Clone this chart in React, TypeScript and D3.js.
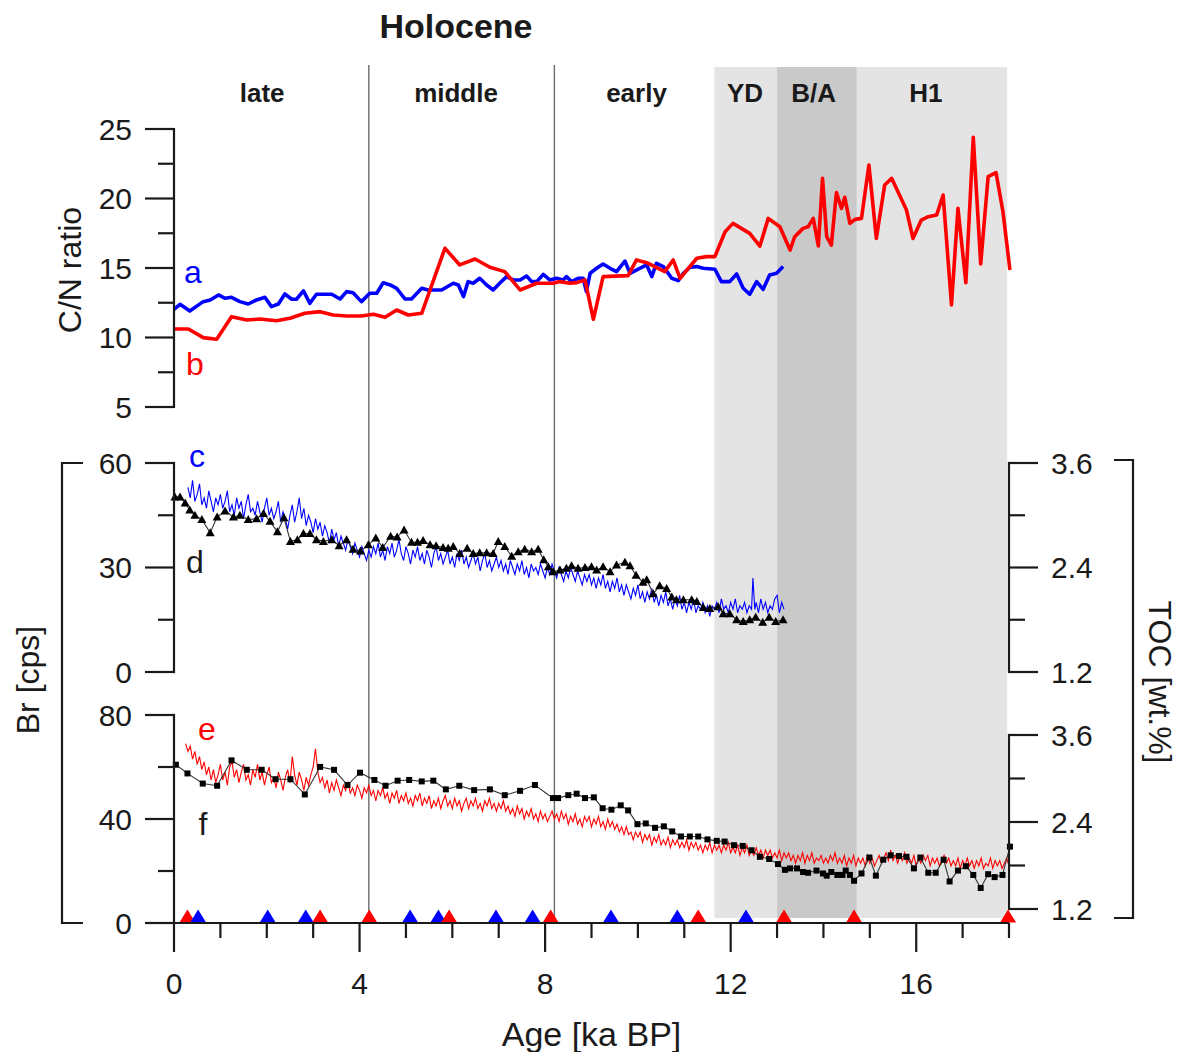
import React from 'react'
import * as d3 from 'd3'

// ---- data ----
// C/N ratio, record a (blue)
const cnA: [number, number][] = [
    [0, 12.03], [0.13, 12.39], [0.34, 11.91], [0.63, 12.58], [0.78, 12.7], [0.96, 13.06], [1.1, 12.82],
    [1.24, 12.89], [1.42, 12.58], [1.6, 12.41], [1.78, 12.7], [1.96, 12.89], [2.1, 12.22], [2.25, 12.41],
    [2.39, 13.13], [2.54, 12.75], [2.64, 12.75], [2.79, 13.35], [2.93, 12.46], [3.07, 13.11], [3.4, 13.11],
    [3.58, 12.77], [3.72, 13.3], [3.86, 13.22], [4.04, 12.58], [4.22, 13.18], [4.37, 13.18], [4.51, 13.94],
    [4.66, 13.78], [4.8, 13.54], [4.98, 12.77], [5.12, 12.77], [5.34, 13.54], [5.48, 13.42], [5.63, 13.42],
    [5.77, 13.42], [6.02, 13.9], [6.13, 13.78], [6.24, 12.94], [6.34, 14.02], [6.45, 13.9], [6.59, 14.26],
    [6.74, 13.78], [6.88, 13.42], [7.02, 13.9], [7.17, 14.38], [7.31, 14.14], [7.46, 14.14], [7.6, 14.42],
    [7.71, 14.02], [7.82, 14.02], [7.96, 14.54], [8.1, 14.14], [8.25, 14.26], [8.39, 14.14], [8.46, 14.38],
    [8.57, 14.02], [8.71, 14.26], [8.82, 14.26], [8.89, 13.3], [8.97, 14.62], [9.11, 14.98], [9.25, 15.29],
    [9.4, 14.98], [9.54, 14.74], [9.72, 15.5], [9.83, 14.62], [10.04, 14.98], [10.19, 15.22], [10.3, 14.38],
    [10.4, 15.34], [10.55, 15.1], [10.73, 14.26], [10.87, 14.09], [10.98, 14.62], [11.12, 15.05], [11.27, 15.1],
    [11.41, 14.98], [11.66, 14.91], [11.8, 14.02], [11.98, 14.02], [12.13, 14.57], [12.27, 13.54], [12.41, 13.11],
    [12.56, 14.02], [12.7, 13.47], [12.84, 14.5], [12.99, 14.62], [13.13, 15.1],
]

// C/N ratio, record b (red)
const cnB: [number, number][] = [
    [0.02, 10.61], [0.31, 10.61], [0.63, 9.99], [0.92, 9.87], [1.24, 11.5], [1.57, 11.26], [1.85, 11.33],
    [2.21, 11.21], [2.5, 11.38], [2.82, 11.74], [3.15, 11.86], [3.43, 11.62], [3.72, 11.55], [4.04, 11.55],
    [4.3, 11.67], [4.55, 11.45], [4.8, 11.98], [5.05, 11.62], [5.34, 11.74], [5.84, 16.42], [6.16, 15.22],
    [6.49, 15.65], [6.81, 15.05], [7.13, 14.74], [7.46, 13.42], [7.82, 13.9], [8.17, 13.9], [8.32, 14.02],
    [8.53, 13.9], [8.68, 13.95], [8.86, 14.14], [9.04, 11.31], [9.25, 14.38], [9.79, 14.45], [9.97, 15.58],
    [10.19, 15.38], [10.58, 14.74], [10.76, 15.58], [10.91, 14.26], [11.27, 15.7], [11.48, 15.82], [11.66, 15.82],
    [11.88, 17.61], [12.05, 18.21], [12.41, 17.49], [12.63, 16.58], [12.81, 18.57], [13.06, 17.97], [13.28, 16.29],
    [13.38, 17.25], [13.56, 17.85], [13.67, 17.97], [13.78, 18.57], [13.89, 16.58], [13.98, 21.45], [14.07, 17.25],
    [14.17, 16.65], [14.28, 20.42], [14.39, 19.29], [14.46, 20.09], [14.57, 18.21], [14.68, 18.5], [14.82, 18.57],
    [14.98, 22.41], [15.14, 17.13], [15.32, 20.97], [15.47, 21.45], [15.79, 19.17], [15.93, 17.13], [16.11, 18.45],
    [16.26, 18.69], [16.44, 18.81], [16.58, 20.25], [16.76, 12.34], [16.9, 19.29], [17.07, 13.94], [17.23, 24.4],
    [17.39, 15.29], [17.55, 21.57], [17.72, 21.86], [17.87, 19.05], [18.02, 14.86],
]

// Br [cps], record c (blue, XRF scan)
const brC: [number, number][] = [
    [0.3, 53], [0.35, 50], [0.4, 55], [0.45, 49], [0.5, 51], [0.55, 54], [0.6, 48], [0.65, 50], [0.7, 47], [0.75, 52],
    [0.8, 49], [0.85, 46], [0.9, 50], [0.95, 48], [1.0, 51], [1.05, 47], [1.1, 49], [1.15, 52], [1.2, 46], [1.25, 48],
    [1.3, 45], [1.35, 50], [1.4, 47], [1.45, 49], [1.5, 44], [1.55, 48], [1.6, 51], [1.65, 46], [1.7, 47], [1.75, 45],
    [1.8, 49], [1.85, 46], [1.9, 43], [1.95, 47], [2.0, 50], [2.05, 45], [2.1, 47], [2.15, 44], [2.2, 46], [2.25, 49],
    [2.3, 43], [2.35, 46], [2.4, 44], [2.45, 41], [2.5, 45], [2.55, 48], [2.6, 43], [2.65, 46], [2.7, 50], [2.75, 44],
    [2.8, 47], [2.85, 42], [2.9, 45], [2.95, 43], [3.0, 40], [3.05, 44], [3.1, 41], [3.15, 43], [3.2, 39], [3.25, 42],
    [3.3, 40], [3.35, 37], [3.4, 41], [3.45, 38], [3.5, 40], [3.55, 36], [3.6, 39], [3.65, 37], [3.7, 35], [3.75, 38],
    [3.8, 36], [3.85, 34], [3.9, 37], [3.95, 35], [4.0, 33], [4.05, 36], [4.1, 34], [4.15, 32], [4.2, 35], [4.25, 33],
    [4.3, 36], [4.35, 34], [4.4, 37], [4.45, 33], [4.5, 35], [4.55, 32], [4.6, 36], [4.65, 34], [4.7, 37], [4.75, 33],
    [4.8, 35], [4.85, 38], [4.9, 34], [4.95, 32], [5.0, 36], [5.05, 34], [5.1, 31], [5.15, 35], [5.2, 33], [5.25, 36],
    [5.3, 32], [5.35, 34], [5.4, 31], [5.45, 35], [5.5, 33], [5.55, 30], [5.6, 34], [5.65, 36], [5.7, 32], [5.75, 34],
    [5.8, 31], [5.85, 33], [5.9, 35], [5.95, 31], [6.0, 33], [6.05, 30], [6.1, 34], [6.15, 32], [6.2, 35], [6.25, 31],
    [6.3, 33], [6.35, 30], [6.4, 32], [6.45, 34], [6.5, 31], [6.55, 33], [6.6, 29], [6.65, 32], [6.7, 34], [6.75, 30],
    [6.8, 32], [6.85, 29], [6.9, 31], [6.95, 33], [7.0, 30], [7.05, 32], [7.1, 29], [7.15, 31], [7.2, 28], [7.25, 32],
    [7.3, 30], [7.35, 28], [7.4, 31], [7.45, 29], [7.5, 32], [7.55, 28], [7.6, 30], [7.65, 27], [7.7, 31], [7.75, 29],
    [7.8, 30], [7.85, 28], [7.9, 31], [7.95, 29], [8.0, 27], [8.05, 30], [8.1, 28], [8.15, 31], [8.2, 29], [8.25, 27],
    [8.3, 30], [8.35, 28], [8.4, 26], [8.45, 29], [8.5, 27], [8.55, 30], [8.6, 28], [8.65, 26], [8.7, 29], [8.75, 27],
    [8.8, 25], [8.85, 28], [8.9, 26], [8.95, 28], [9.0, 25], [9.05, 27], [9.1, 24], [9.15, 27], [9.2, 25], [9.25, 28],
    [9.3, 24], [9.35, 26], [9.4, 23], [9.45, 26], [9.5, 24], [9.55, 27], [9.6, 23], [9.65, 25], [9.7, 22], [9.75, 25],
    [9.8, 23], [9.85, 21], [9.9, 24], [9.95, 22], [10.0, 25], [10.05, 21], [10.1, 23], [10.15, 20], [10.2, 23],
    [10.25, 21], [10.3, 24], [10.35, 20], [10.4, 22], [10.45, 19], [10.5, 22], [10.55, 20], [10.6, 23], [10.65, 19],
    [10.7, 21], [10.75, 18], [10.8, 21], [10.85, 19], [10.9, 22], [10.95, 18], [11.0, 20], [11.05, 17], [11.1, 20],
    [11.15, 18], [11.2, 21], [11.25, 17], [11.3, 19], [11.35, 18], [11.4, 20], [11.45, 17], [11.5, 19], [11.55, 16],
    [11.6, 19], [11.65, 18], [11.7, 20], [11.75, 17], [11.8, 21], [11.85, 18], [11.9, 19], [11.95, 17], [12.0, 20],
    [12.05, 18], [12.1, 21], [12.15, 17], [12.2, 19], [12.25, 18], [12.3, 20], [12.35, 17], [12.4, 19], [12.45, 18],
    [12.48, 27], [12.52, 18], [12.55, 20], [12.6, 17], [12.65, 21], [12.7, 18], [12.75, 20], [12.8, 17], [12.85, 19],
    [12.9, 18], [12.95, 21], [13.0, 22], [13.05, 17], [13.1, 20], [13.15, 18],
]

// TOC [wt.%], record d (black triangles)
const tocD: [number, number][] = [
    [0.02, 3.21], [0.13, 3.21], [0.24, 3.14], [0.34, 3.06], [0.45, 3.0], [0.6, 2.95], [0.78, 2.8], [0.93, 2.98],
    [1.1, 3.05], [1.28, 2.98], [1.42, 3.0], [1.6, 2.95], [1.78, 2.96], [1.93, 3.02], [2.07, 2.93], [2.23, 2.81],
    [2.37, 2.97], [2.51, 2.7], [2.66, 2.72], [2.79, 2.79], [2.93, 2.79], [3.07, 2.72], [3.22, 2.7], [3.4, 2.72],
    [3.56, 2.65], [3.72, 2.72], [3.86, 2.61], [4.02, 2.59], [4.19, 2.66], [4.35, 2.74], [4.5, 2.63], [4.67, 2.76],
    [4.81, 2.75], [4.96, 2.83], [5.12, 2.69], [5.25, 2.69], [5.37, 2.71], [5.52, 2.66], [5.65, 2.65], [5.8, 2.63],
    [5.91, 2.62], [6.02, 2.64], [6.16, 2.56], [6.32, 2.62], [6.45, 2.56], [6.59, 2.57], [6.74, 2.57], [6.88, 2.56],
    [6.99, 2.7], [7.13, 2.64], [7.28, 2.53], [7.42, 2.58], [7.56, 2.61], [7.71, 2.58], [7.85, 2.61], [7.97, 2.49],
    [8.07, 2.41], [8.17, 2.35], [8.32, 2.37], [8.46, 2.39], [8.57, 2.42], [8.71, 2.39], [8.86, 2.4], [9.0, 2.41],
    [9.11, 2.37], [9.25, 2.41], [9.4, 2.35], [9.54, 2.43], [9.72, 2.46], [9.83, 2.42], [9.96, 2.31], [10.11, 2.23],
    [10.19, 2.26], [10.33, 2.1], [10.47, 2.19], [10.62, 2.16], [10.73, 2.06], [10.83, 2.03], [10.98, 2.03],
    [11.16, 2.03], [11.27, 2.01], [11.41, 1.94], [11.55, 1.93], [11.73, 1.95], [11.84, 1.87], [11.98, 1.87],
    [12.13, 1.8], [12.27, 1.78], [12.41, 1.8], [12.54, 1.83], [12.69, 1.77], [12.83, 1.83], [12.97, 1.78], [13.13, 1.8],
]

// Br [cps], record e (red, XRF scan)
const brE: [number, number][] = [
    [0.25, 69], [0.3, 66], [0.35, 68], [0.4, 63], [0.45, 66], [0.5, 61], [0.55, 64], [0.6, 59], [0.65, 62], [0.7, 57],
    [0.75, 60], [0.8, 55], [0.85, 59], [0.9, 54], [0.95, 57], [1.0, 61], [1.05, 55], [1.1, 58], [1.15, 53], [1.2, 60],
    [1.25, 62], [1.3, 56], [1.35, 59], [1.4, 54], [1.45, 58], [1.5, 61], [1.55, 55], [1.6, 57], [1.65, 53], [1.7, 59],
    [1.75, 56], [1.8, 61], [1.85, 55], [1.9, 58], [1.95, 53], [2.0, 57], [2.05, 60], [2.1, 54], [2.15, 56], [2.2, 52],
    [2.25, 58], [2.3, 55], [2.35, 51], [2.4, 56], [2.45, 59], [2.5, 54], [2.55, 64], [2.6, 57], [2.65, 53], [2.7, 58],
    [2.75, 55], [2.8, 51], [2.85, 56], [2.9, 53], [2.95, 57], [3.0, 60], [3.05, 67], [3.1, 58], [3.15, 54], [3.2, 56],
    [3.25, 52], [3.3, 55], [3.35, 50], [3.4, 54], [3.45, 51], [3.5, 55], [3.55, 52], [3.6, 49], [3.65, 53], [3.7, 51],
    [3.75, 54], [3.8, 50], [3.85, 52], [3.9, 49], [3.95, 53], [4.0, 51], [4.05, 48], [4.1, 52], [4.15, 50], [4.2, 53],
    [4.25, 49], [4.3, 51], [4.35, 47], [4.4, 51], [4.45, 49], [4.5, 52], [4.55, 48], [4.6, 50], [4.65, 46], [4.7, 50],
    [4.75, 48], [4.8, 51], [4.85, 46], [4.9, 49], [4.95, 47], [5.0, 50], [5.05, 46], [5.1, 48], [5.15, 45], [5.2, 49],
    [5.25, 47], [5.3, 50], [5.35, 45], [5.4, 48], [5.45, 46], [5.5, 49], [5.55, 44], [5.6, 47], [5.65, 45], [5.7, 48],
    [5.75, 44], [5.8, 47], [5.85, 49], [5.9, 45], [5.95, 47], [6.0, 44], [6.05, 48], [6.1, 45], [6.15, 47], [6.2, 43],
    [6.25, 46], [6.3, 48], [6.35, 44], [6.4, 47], [6.45, 45], [6.5, 48], [6.55, 44], [6.6, 46], [6.65, 43], [6.7, 47],
    [6.75, 45], [6.8, 48], [6.85, 44], [6.9, 46], [6.95, 43], [7.0, 46], [7.05, 44], [7.1, 47], [7.15, 43], [7.2, 45],
    [7.25, 42], [7.3, 44], [7.35, 41], [7.4, 45], [7.45, 42], [7.5, 44], [7.55, 40], [7.6, 43], [7.65, 41], [7.7, 44],
    [7.75, 40], [7.8, 42], [7.85, 39], [7.9, 43], [7.95, 40], [8.0, 42], [8.05, 39], [8.1, 41], [8.15, 43], [8.2, 40],
    [8.25, 42], [8.3, 39], [8.35, 43], [8.4, 40], [8.45, 42], [8.5, 38], [8.55, 41], [8.6, 39], [8.65, 42], [8.7, 38],
    [8.75, 40], [8.8, 37], [8.85, 41], [8.9, 39], [8.95, 41], [9.0, 37], [9.05, 40], [9.1, 38], [9.15, 41], [9.2, 37],
    [9.25, 39], [9.3, 36], [9.35, 40], [9.4, 37], [9.45, 39], [9.5, 36], [9.55, 38], [9.6, 35], [9.65, 37], [9.7, 34],
    [9.75, 37], [9.8, 34], [9.85, 35], [9.9, 32], [9.95, 35], [10.0, 33], [10.05, 35], [10.1, 31], [10.15, 34],
    [10.2, 32], [10.25, 34], [10.3, 30], [10.35, 33], [10.4, 31], [10.45, 34], [10.5, 30], [10.55, 32], [10.6, 30],
    [10.65, 33], [10.7, 29], [10.75, 32], [10.8, 30], [10.85, 32], [10.9, 29], [10.95, 31], [11.0, 29], [11.05, 32],
    [11.1, 28], [11.15, 31], [11.2, 29], [11.25, 31], [11.3, 28], [11.35, 30], [11.4, 27], [11.45, 30], [11.5, 28],
    [11.55, 31], [11.6, 27], [11.65, 30], [11.7, 28], [11.75, 30], [11.8, 27], [11.85, 30], [11.9, 28], [11.95, 31],
    [12.0, 27], [12.05, 29], [12.1, 27], [12.15, 30], [12.2, 26], [12.25, 29], [12.3, 27], [12.35, 30], [12.4, 26],
    [12.45, 28], [12.5, 26], [12.55, 29], [12.6, 26], [12.65, 28], [12.7, 25], [12.75, 28], [12.8, 26], [12.85, 28],
    [12.9, 25], [12.95, 27], [13.0, 25], [13.05, 28], [13.1, 24], [13.15, 27], [13.2, 25], [13.25, 27], [13.3, 24],
    [13.35, 26], [13.4, 23], [13.45, 26], [13.5, 24], [13.55, 27], [13.6, 23], [13.65, 26], [13.7, 24], [13.75, 27],
    [13.8, 23], [13.85, 25], [13.9, 24], [13.95, 26], [14.0, 23], [14.05, 25], [14.1, 23], [14.15, 26], [14.2, 24],
    [14.25, 27], [14.3, 23], [14.35, 25], [14.4, 23], [14.45, 26], [14.5, 22], [14.55, 25], [14.6, 23], [14.65, 26],
    [14.7, 22], [14.75, 25], [14.8, 23], [14.85, 25], [14.9, 22], [14.95, 26], [15.0, 23], [15.05, 25], [15.1, 22],
    [15.15, 24], [15.2, 26], [15.25, 23], [15.3, 25], [15.35, 27], [15.4, 24], [15.45, 28], [15.5, 24], [15.55, 26],
    [15.6, 23], [15.65, 26], [15.7, 24], [15.75, 27], [15.8, 23], [15.85, 25], [15.9, 23], [15.95, 26], [16.0, 22],
    [16.05, 25], [16.1, 23], [16.15, 26], [16.2, 24], [16.25, 26], [16.3, 22], [16.35, 25], [16.4, 23], [16.45, 25],
    [16.5, 22], [16.55, 24], [16.6, 26], [16.65, 23], [16.7, 25], [16.75, 22], [16.8, 24], [16.85, 22], [16.9, 25],
    [16.95, 21], [17.0, 24], [17.05, 22], [17.1, 25], [17.15, 22], [17.2, 24], [17.25, 21], [17.3, 24], [17.35, 22],
    [17.4, 25], [17.45, 21], [17.5, 23], [17.55, 22], [17.6, 25], [17.65, 21], [17.7, 24], [17.75, 22], [17.8, 24],
    [17.85, 21], [17.9, 23], [17.95, 25], [18.0, 22],
]

// TOC [wt.%], record f (black squares)
const tocF: [number, number][] = [
    [0.04, 3.19], [0.29, 3.07], [0.62, 2.93], [0.93, 2.9], [1.24, 3.25], [1.57, 3.12], [1.89, 3.12], [2.19, 2.99],
    [2.51, 2.99], [2.82, 2.78], [3.15, 3.16], [3.45, 3.12], [3.74, 2.91], [4.01, 3.08], [4.32, 2.98], [4.56, 2.9],
    [4.82, 2.97], [5.07, 2.98], [5.34, 2.96], [5.59, 2.97], [5.86, 2.85], [6.15, 2.9], [6.47, 2.84], [6.81, 2.85],
    [7.13, 2.77], [7.46, 2.83], [7.78, 2.91], [8.17, 2.73], [8.28, 2.73], [8.5, 2.77], [8.68, 2.79], [8.86, 2.73],
    [9.05, 2.74], [9.24, 2.59], [9.43, 2.57], [9.63, 2.63], [9.79, 2.56], [9.99, 2.37], [10.17, 2.38], [10.37, 2.32],
    [10.56, 2.34], [10.74, 2.27], [10.93, 2.2], [11.12, 2.2], [11.3, 2.2], [11.5, 2.16], [11.7, 2.14], [11.87, 2.13],
    [12.07, 2.08], [12.26, 2.07], [12.45, 2.01], [12.63, 1.92], [12.83, 1.89], [13.02, 1.82], [13.17, 1.74],
    [13.28, 1.76], [13.43, 1.76], [13.56, 1.71], [13.67, 1.7], [13.85, 1.73], [13.99, 1.69], [14.07, 1.66],
    [14.17, 1.71], [14.3, 1.67], [14.41, 1.67], [14.48, 1.73], [14.57, 1.67], [14.66, 1.59], [14.82, 1.69],
    [14.99, 1.91], [15.13, 1.66], [15.29, 1.88], [15.45, 1.94], [15.63, 1.93], [15.79, 1.92], [15.95, 1.76],
    [16.09, 1.91], [16.26, 1.7], [16.42, 1.7], [16.59, 1.88], [16.72, 1.58], [16.9, 1.73], [17.07, 1.79],
    [17.23, 1.67], [17.39, 1.49], [17.55, 1.68], [17.69, 1.64], [17.86, 1.67], [18.02, 2.06],
]

// age control points (triangles on the age axis)
const redAges = [0.29, 3.15, 4.21, 5.93, 8.12, 11.3, 13.15, 14.66, 17.98]
const blueAges = [0.52, 2.02, 2.84, 5.09, 5.7, 6.94, 7.73, 9.42, 10.85, 12.33]

// climate intervals and Holocene boundaries
const bands = [
    { name: 'YD', from: 11.65, to: 13.0, labelAt: 12.31, dark: false },
    { name: 'B/A', from: 13.0, to: 14.72, labelAt: 13.79, dark: true },
    { name: 'H1', from: 14.72, to: 17.96, labelAt: 16.21, dark: false },
]
const holoceneBounds = [4.2, 8.2]
const holoceneLabels = [
    { name: 'late', age: 1.9 },
    { name: 'middle', age: 6.08 },
    { name: 'early', age: 9.97 },
]

// tick values
const xMajor = [0, 4, 8, 12, 16]
const xMinor = [1, 2, 3, 5, 6, 7, 9, 10, 11, 13, 14, 15, 17, 18]
const cnMajor = [5, 10, 15, 20, 25]
const cnMinor = [7.5, 12.5, 17.5, 22.5]
const br1Major = [0, 30, 60]
const br1Minor = [15, 45]
const br2Major = [0, 40, 80]
const br2Minor = [20, 60]
const tocMajor = [1.2, 2.4, 3.6]
const tocMinor = [1.8, 3.0]

const FONT = '"Liberation Sans", Arial, Helvetica, sans-serif'
const INK = '#1a1a1a'

const x = d3.scaleLinear().domain([0, 18]).range([174, 1009])
const yCN = d3.scaleLinear().domain([5, 25]).range([407, 129])
const yBr1 = d3.scaleLinear().domain([0, 60]).range([672, 463])
const yToc1 = d3.scaleLinear().domain([1.2, 3.6]).range([672, 463])
const yBr2 = d3.scaleLinear().domain([0, 80]).range([923, 715])
const yToc2 = d3.scaleLinear().domain([1.2, 3.6]).range([909, 735])

type Scale = d3.ScaleLinear<number, number>

// vertical axis, ticks pointing outward (left or right)
const VAxis = ({ scale, at, major, minor, side, fmt }: {
    scale: Scale; at: number; major: number[]; minor: number[]; side: 'left' | 'right'; fmt?: (v: number) => string
}) => {
    const dir = side === 'left' ? -1 : 1
    const [d0, d1] = scale.domain()
    return (
        <g stroke={INK} strokeWidth={2.2}>
            <line x1={at} x2={at} y1={scale(d0)} y2={scale(d1)} strokeLinecap="square" />
            {major.map((v) => (
                <line key={'M' + v} x1={at} x2={at + dir * 29} y1={scale(v)} y2={scale(v)} />
            ))}
            {minor.map((v) => (
                <line key={'m' + v} x1={at} x2={at + dir * 16} y1={scale(v)} y2={scale(v)} />
            ))}
            {major.map((v) => (
                <text
                    key={'t' + v}
                    x={at + dir * 42}
                    y={scale(v)}
                    dy="0.36em"
                    stroke="none"
                    fill={INK}
                    fontSize={30}
                    textAnchor={side === 'left' ? 'end' : 'start'}
                >
                    {fmt ? fmt(v) : v}
                </text>
            ))}
        </g>
    )
}

export default function App() {
    const lineOf = (ys: Scale) =>
        d3.line<[number, number]>().x((d) => x(d[0])).y((d) => ys(d[1]))

    const markers = [
        ...redAges.map((a) => ({ a, c: '#ff0000' })),
        ...blueAges.map((a) => ({ a, c: '#0000ff' })),
    ].sort((p, q) => p.a - q.a)

    const axisY = yBr2(0)
    const tri = (cx: number, cy: number, w: number, h: number) =>
        `M${cx - w / 2},${cy} L${cx + w / 2},${cy} L${cx},${cy - h} Z`

    return (
        <svg
            width={1180}
            height={1052}
            style={{ position: 'absolute', left: 0, top: 0, background: '#fff' }}
            fontFamily={FONT}
        >
            {/* climate interval bands */}
            {bands.map((b) => (
                <rect
                    key={b.name}
                    x={x(b.from)}
                    y={67}
                    width={x(b.to) - x(b.from)}
                    height={918 - 67}
                    fill={b.dark ? '#c9c9c9' : '#e4e4e4'}
                />
            ))}
            {holoceneBounds.map((a) => (
                <line key={a} x1={x(a)} x2={x(a)} y1={65} y2={axisY} stroke="#6a6a6a" strokeWidth={1.4} />
            ))}

            {/* header */}
            <text x={456} y={38} textAnchor="middle" fontSize={34} fontWeight="bold" fill={INK}>
                Holocene
            </text>
            {[...holoceneLabels, ...bands.map((b) => ({ name: b.name, age: b.labelAt }))].map((l) => (
                <text key={l.name} x={x(l.age)} y={102} textAnchor="middle" fontSize={26} fontWeight="bold" fill={INK}>
                    {l.name}
                </text>
            ))}

            {/* C/N ratio panel */}
            <path d={lineOf(yCN)(cnA) ?? ''} fill="none" stroke="#0000ff" strokeWidth={3.6} strokeLinejoin="round" />
            <path d={lineOf(yCN)(cnB) ?? ''} fill="none" stroke="#ff0000" strokeWidth={3.6} strokeLinejoin="round" />
            <VAxis scale={yCN} at={174} major={cnMajor} minor={cnMinor} side="left" />

            {/* Br / TOC, upper pair */}
            <path d={lineOf(yBr1)(brC) ?? ''} fill="none" stroke="#0000ff" strokeWidth={1.1} />
            <path d={lineOf(yToc1)(tocD) ?? ''} fill="none" stroke="#333" strokeWidth={1.1} />
            {tocD.map((d, i) => (
                <path key={i} d={tri(x(d[0]), yToc1(d[1]) + 3.5, 9, 8)} fill="#000" />
            ))}
            <VAxis scale={yBr1} at={174} major={br1Major} minor={br1Minor} side="left" />
            <VAxis scale={yToc1} at={1009} major={tocMajor} minor={tocMinor} side="right" fmt={(v) => v.toFixed(1)} />

            {/* Br / TOC, lower pair */}
            <path d={lineOf(yBr2)(brE) ?? ''} fill="none" stroke="#ff0000" strokeWidth={1.1} />
            <path d={lineOf(yToc2)(tocF) ?? ''} fill="none" stroke="#333" strokeWidth={1.1} />
            {tocF.map((d, i) => (
                <rect key={i} x={x(d[0]) - 3} y={yToc2(d[1]) - 3} width={6} height={6} fill="#000" />
            ))}
            <VAxis scale={yBr2} at={174} major={br2Major} minor={br2Minor} side="left" />
            <VAxis scale={yToc2} at={1009} major={tocMajor} minor={tocMinor} side="right" fmt={(v) => v.toFixed(1)} />

            {/* age control points */}
            {markers.map((m, i) => (
                <path key={i} d={tri(x(m.a), axisY - 0.5, 16, 13)} fill={m.c} />
            ))}

            {/* age axis */}
            <g stroke={INK} strokeWidth={2.2}>
                <line x1={x(0)} x2={x(18)} y1={axisY} y2={axisY} />
                {xMajor.map((v) => (
                    <line key={'M' + v} x1={x(v)} x2={x(v)} y1={axisY} y2={axisY + 29} />
                ))}
                {xMinor.map((v) => (
                    <line key={'m' + v} x1={x(v)} x2={x(v)} y1={axisY} y2={axisY + 15} />
                ))}
            </g>
            {xMajor.map((v) => (
                <text key={v} x={x(v)} y={994} textAnchor="middle" fontSize={30} fill={INK}>
                    {v}
                </text>
            ))}
            <text x={(x(0) + x(18)) / 2} y={1046} textAnchor="middle" fontSize={34} fill={INK}>
                Age [ka BP]
            </text>

            {/* axis titles and brackets */}
            <text transform="translate(70,270) rotate(-90)" textAnchor="middle" dy="0.35em" fontSize={32} fill={INK}>
                C/N ratio
            </text>
            <path d="M83,463 H62 V923 H83" fill="none" stroke={INK} strokeWidth={2.2} />
            <text transform="translate(28,680) rotate(-90)" textAnchor="middle" dy="0.35em" fontSize={32} fill={INK}>
                Br [cps]
            </text>
            <path d="M1114,460 H1133 V918 H1114" fill="none" stroke={INK} strokeWidth={2.2} />
            <text transform="translate(1160,682) rotate(90)" textAnchor="middle" dy="0.35em" fontSize={32} fill={INK}>
                TOC [wt.%]
            </text>

            {/* record labels */}
            <text x={193} y={283} textAnchor="middle" fontSize={32} fill="#0000ff">a</text>
            <text x={195} y={375} textAnchor="middle" fontSize={32} fill="#ff0000">b</text>
            <text x={197} y={467} textAnchor="middle" fontSize={32} fill="#0000ff">c</text>
            <text x={195} y={573} textAnchor="middle" fontSize={32} fill={INK}>d</text>
            <text x={207} y={740} textAnchor="middle" fontSize={32} fill="#ff0000">e</text>
            <text x={203} y={835} textAnchor="middle" fontSize={32} fill={INK}>f</text>
        </svg>
    )
}
